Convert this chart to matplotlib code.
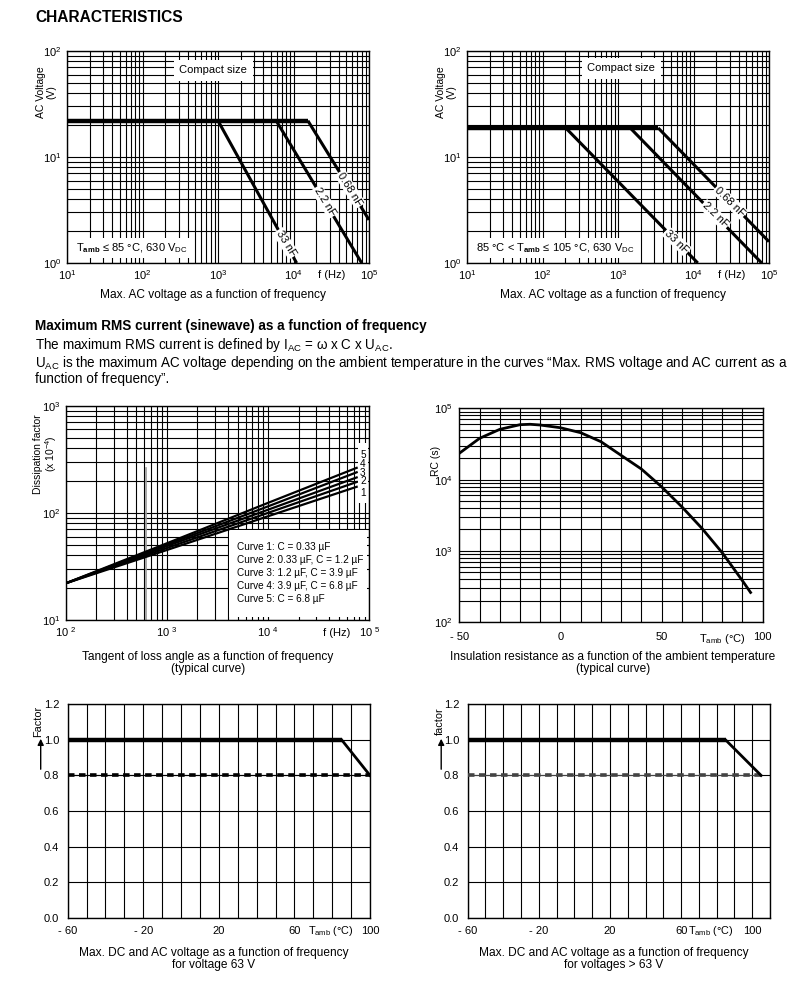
import matplotlib
matplotlib.use('Agg')
from matplotlib import pyplot as plt
from matplotlib.patches import Rectangle, FancyArrowPatch
from matplotlib.ticker import NullFormatter
import numpy as np

plt.rcParams['font.family'] = ['Liberation Sans', 'DejaVu Sans']
plt.rcParams['mathtext.fontset'] = 'custom'
plt.rcParams['mathtext.rm'] = 'Liberation Sans'
plt.rcParams['mathtext.it'] = 'Liberation Sans:italic'
plt.rcParams['mathtext.bf'] = 'Liberation Sans:bold'

W, H = 808, 981

# ---- data ----
cap_labels = ['33 nF', '2.2 nF', '0.68 nF']

# max AC voltage, T_amb <= 85 C
v_plateau_85 = 22.0
f_break_85 = [1000, 5900, 15500]
f_end_85 = [11000, 80000, 100000]
v_end_85 = [1.0, 1.0, 2.55]
lbl_f_85 = [7900, 26000, 56000]

# max AC voltage, 85 C < T_amb <= 105 C
v_plateau_105 = 18.8
f_break_105 = [203, 1450, 3400]
f_end_105 = [11400, 80000, 100000]
v_end_105 = [1.0, 1.0, 1.59]
lbl_f_105 = [6000, 19300, 30400]

# tangent of loss angle (x 10^-4)
tan_f = [100, 1000, 10000, 75000]
tan_curves = [
    [22, 45, 93, 175],
    [22, 47, 100, 194],
    [22, 49, 107, 214],
    [22, 50.5, 115, 239],
    [22, 52, 124, 263],
]
tan_legend = ['Curve 1: C = 0.33 \u00b5F',
              'Curve 2: 0.33 \u00b5F, C = 1.2 \u00b5F',
              'Curve 3: 1.2 \u00b5F, C = 3.9 \u00b5F',
              'Curve 4: 3.9 \u00b5F, C = 6.8 \u00b5F',
              'Curve 5: C = 6.8 \u00b5F']

# insulation resistance RC (s)
rc_temp = [-50, -40, -30, -20, -15, -10, 0, 10, 20, 30, 40, 50, 60, 70, 80, 90, 94]
rc_val = [23400, 37900, 50700, 58900, 59700, 58300, 53400, 45500, 34100,
          21900, 14100, 7940, 4170, 2070, 944, 382, 262]

# voltage derating factor
der_temp_63 = [-60, 85, 100]
der_fac_63 = [1.0, 1.0, 0.8]
der_temp_hi = [-60, 85, 105]
der_fac_hi = [1.0, 1.0, 0.8]
dash_level = 0.8

fig = plt.figure(figsize=(W / 100, H / 100), dpi=100)

CAP = 8.6   # caption size
YL = 7.5    # y label size


def px_axes(l, t, r, b):
    return fig.add_axes([l / W, 1 - b / H, (r - l) / W, (b - t) / H])


def style(ax, pad=4):
    for s in ax.spines.values():
        s.set_linewidth(1.0)
    ax.tick_params(which='both', length=0, labelsize=8, pad=pad)
    ax.grid(True, which='both', color='black', lw=0.8)
    ax.set_axisbelow(True)
    ax.xaxis.set_minor_formatter(NullFormatter())
    ax.yaxis.set_minor_formatter(NullFormatter())


def ftext(x, y, s, **kw):
    kw.setdefault('fontsize', 8)
    return fig.text(x / W, 1 - y / H, s, **kw)


white = dict(boxstyle='square,pad=0.3', fc='white', ec='none')


def voltage_panel(ax, plateau, breaks, ends_f, ends_v, lbl_f, rot, note):
    ax.set_xscale('log')
    ax.set_yscale('log')
    ax.set_xlim(10, 1e5)
    ax.set_ylim(1, 100)
    style(ax)
    ax.plot([10, max(breaks)], [plateau, plateau], color='black', lw=3.2,
            solid_capstyle='butt', zorder=3)
    for fb, fe, ve, lab, lf in zip(breaks, ends_f, ends_v, cap_labels, lbl_f):
        ax.plot([fb, fe], [plateau, ve], color='black', lw=2.2,
                solid_capstyle='butt', zorder=3)
        t = (np.log10(lf) - np.log10(fb)) / (np.log10(fe) - np.log10(fb))
        ly = 10 ** (np.log10(plateau) + t * (np.log10(ve) - np.log10(plateau)))
        ax.text(lf, ly, lab, rotation=rot, ha='center', va='center', fontsize=8,
                rotation_mode='anchor', zorder=5,
                bbox=dict(boxstyle='square,pad=0.1', fc='white', ec='none'))
    ax.set_xticks([10, 100, 1000, 1e4, 1e5])
    ax.set_xticklabels([r'10$^{1}$', r'10$^{2}$', r'10$^{3}$', r'10$^{4}$', r'10$^{5}$'])
    ax.set_yticks([1, 10, 100])
    ax.set_yticklabels([r'10$^{0}$', r'10$^{1}$', r'10$^{2}$'])
    ax.text(10 ** 4.5, -0.035, 'f (Hz)', transform=ax.get_xaxis_transform(),
            ha='center', va='top', fontsize=8)
    ax.text(0.03, 0.07, note, transform=ax.transAxes, ha='left', va='center',
            fontsize=8, bbox=white, zorder=5)


ftext(35, 17, 'CHARACTERISTICS', fontsize=11.2, fontweight='bold', va='center')

# ---- top row ----
ax1 = px_axes(67, 51, 369, 263)
voltage_panel(ax1, v_plateau_85, f_break_85, f_end_85, v_end_85, lbl_f_85, -58,
              r'T$_{\mathbf{amb}}$ ≤ 85 °C, 630 V$_{\mathrm{DC}}$')
ax1.text(860, 66, 'Compact size', ha='center', va='center', fontsize=8,
         bbox=dict(boxstyle='square,pad=0.5', fc='white', ec='none'), zorder=5)
ftext(46, 92, 'AC Voltage\n(V)', rotation=90, ha='center', va='center',
      multialignment='center', linespacing=1.1, fontsize=YL)
ftext(213, 295, 'Max. AC voltage as a function of frequency', ha='center',
      va='center', fontsize=CAP)

ax2 = px_axes(467, 51, 769, 263)
voltage_panel(ax2, v_plateau_105, f_break_105, f_end_105, v_end_105, lbl_f_105, -44,
              r'85 °C < T$_{\mathbf{amb}}$ ≤ 105 °C, 630 V$_{\mathrm{DC}}$')
ax2.text(1100, 68.7, 'Compact size', ha='center', va='center', fontsize=8,
         bbox=dict(boxstyle='square,pad=0.5', fc='white', ec='none'), zorder=5)
ftext(446, 92, 'AC Voltage\n(V)', rotation=90, ha='center', va='center',
      multialignment='center', linespacing=1.1, fontsize=YL)
ftext(613, 295, 'Max. AC voltage as a function of frequency', ha='center',
      va='center', fontsize=CAP)

# ---- text block ----
BODY = 9.75
ftext(35, 326, 'Maximum RMS current (sinewave) as a function of frequency',
      fontsize=BODY, fontweight='bold', va='center')
ftext(35, 345, r'The maximum RMS current is defined by I$_{\mathrm{AC}}$ = ω x C x U$_{\mathrm{AC}}$.',
      fontsize=BODY, va='center')
ftext(35, 363, r'U$_{\mathrm{AC}}$ is the maximum AC voltage depending on the ambient temperature '
      'in the curves \u201cMax. RMS voltage and AC current as a', fontsize=BODY, va='center')
ftext(35, 379, 'function of frequency\u201d.', fontsize=BODY, va='center')

# ---- middle left: dissipation factor ----
ax3 = px_axes(65.7, 405.7, 369.3, 620)
ax3.set_xscale('log')
ax3.set_yscale('log')
ax3.set_xlim(100, 1e5)
ax3.set_ylim(10, 1000)
style(ax3)
for vals in tan_curves:
    ax3.plot(tan_f, vals, color='black', lw=1.6, zorder=3)
ax3.plot([617, 617], [10, 260], color='#999999', lw=1.2, zorder=1.6)
ax3.add_patch(Rectangle((0.538, 0.014), 0.455, 0.406, transform=ax3.transAxes,
                        fc='white', ec='none', zorder=2))
ax3.add_patch(Rectangle((0.963, 0.546), 0.033, 0.28, transform=ax3.transAxes,
                        fc='white', ec='none', zorder=2))
for i, line in enumerate(tan_legend):
    ax3.text(0.563, 0.342 - i * 0.0605, line, transform=ax3.transAxes,
             ha='left', va='center', fontsize=7.2, zorder=4)
for num, yy in zip(['5', '4', '3', '2', '1'], [0.768, 0.726, 0.688, 0.650, 0.593]):
    ax3.text(0.979, yy, num, transform=ax3.transAxes, ha='center', va='center',
             fontsize=7.2, zorder=4)
ax3.set_xticks([100, 1000, 1e4, 1e5])
ax3.set_xticklabels([r'10 $^{2}$', r'10 $^{3}$', r'10 $^{4}$', r'10 $^{5}$'])
ax3.set_yticks([10, 100, 1000])
ax3.set_yticklabels([r'10$^{1}$', r'10$^{2}$', r'10$^{3}$'])
ax3.text(48000, -0.035, 'f (Hz)', transform=ax3.get_xaxis_transform(),
         ha='center', va='top', fontsize=8)
ftext(46, 454, 'Dissipation factor\n' + r'(x 10$^{-4}$)', rotation=90, ha='center',
      va='center', multialignment='center', linespacing=1.1, fontsize=YL)
ftext(208, 663, 'Tangent of loss angle as a function of frequency\n(typical curve)',
      ha='center', va='center', multialignment='center', linespacing=1.1, fontsize=CAP)

# ---- middle right: insulation resistance ----
ax4 = px_axes(459.3, 408.3, 762.7, 622.3)
ax4.set_yscale('log')
ax4.set_xlim(-50, 100)
ax4.set_ylim(100, 1e5)
style(ax4, pad=7)
ax4.plot(rc_temp, rc_val, color='black', lw=2, zorder=3)
ticks4 = list(range(-50, 101, 10))
ax4.set_xticks(ticks4)
lab4 = {-50: '- 50', 0: '0', 50: '50', 100: '100'}
ax4.set_xticklabels([lab4.get(t, '') for t in ticks4])
ax4.set_yticks([100, 1000, 1e4, 1e5])
ax4.set_yticklabels([r'10$^{2}$', r'10$^{3}$', r'10$^{4}$', r'10$^{5}$'])
ax4.tick_params(axis='y', pad=5)
ax4.text(80, -0.045, r'T$_{\mathrm{amb}}$ (°C)', transform=ax4.get_xaxis_transform(),
         ha='center', va='top', fontsize=8)
ftext(436, 461, 'RC (s)', rotation=90, ha='center', va='center', fontsize=YL)
ftext(613, 663, 'Insulation resistance as a function of the ambient temperature\n(typical curve)',
      ha='center', va='center', multialignment='center', linespacing=1.1, fontsize=CAP)


# ---- bottom row: derating ----
def derating_panel(ax, temps, facs, xmax, dash_color):
    ax.set_xlim(-60, xmax)
    ax.set_ylim(0, 1.2)
    style(ax, pad=6)
    ax.plot([-60, temps[-1]], [dash_level, dash_level], color=dash_color, lw=0.8, zorder=3)
    ax.plot([-60, temps[-1]], [dash_level, dash_level], color=dash_color, lw=2.6,
            linestyle=(0, (1.8, 1.25)), solid_capstyle='butt', zorder=3)
    ax.plot(temps[:2], facs[:2], color='black', lw=3.2, solid_capstyle='butt', zorder=4)
    ax.plot(temps[1:], facs[1:], color='black', lw=2, zorder=4)
    ticks = list(range(-60, xmax + 1, 10))
    labs = {-60: '- 60', -20: '- 20', 20: '20', 60: '60', 100: '100'}
    ax.set_xticks(ticks)
    ax.set_xticklabels([labs.get(t, '') for t in ticks])
    ax.set_yticks(np.arange(0, 1.21, 0.2))
    ax.set_yticklabels(['%.1f' % v for v in np.arange(0, 1.21, 0.2)])


ax5 = px_axes(67.7, 704.3, 370, 917.7)
derating_panel(ax5, der_temp_63, der_fac_63, 100, 'black')
ax5.text(79.5, -0.03, r'T$_{\mathrm{amb}}$ (°C)', transform=ax5.get_xaxis_transform(),
         ha='center', va='top', fontsize=7.8)
ftext(38, 721, 'Factor', rotation=90, ha='center', va='center', fontsize=YL + 0.3)
ftext(214, 959, 'Max. DC and AC voltage as a function of frequency\nfor voltage 63 V',
      ha='center', va='center', multialignment='center', linespacing=1.1, fontsize=CAP)

ax6 = px_axes(467.7, 704.3, 770, 917.7)
derating_panel(ax6, der_temp_hi, der_fac_hi, 110, '#444444')
ax6.text(77, -0.03, r'T$_{\mathrm{amb}}$ (°C)', transform=ax6.get_xaxis_transform(),
         ha='center', va='top', fontsize=7.8)
ftext(439.5, 721, 'factor', rotation=90, ha='center', va='center', fontsize=YL + 0.3)
ftext(613.5, 959, 'Max. DC and AC voltage as a function of frequency\nfor voltages > 63 V',
      ha='center', va='center', multialignment='center', linespacing=1.1, fontsize=CAP)

for xa in (40.7, 441.2):
    fig.add_artist(FancyArrowPatch(
        (xa / W, 1 - 772 / H), (xa / W, 1 - 736 / H), transform=fig.transFigure,
        arrowstyle='-|>', mutation_scale=9, color='black', lw=1))

fig.savefig('out.png', dpi=100, facecolor='white')
